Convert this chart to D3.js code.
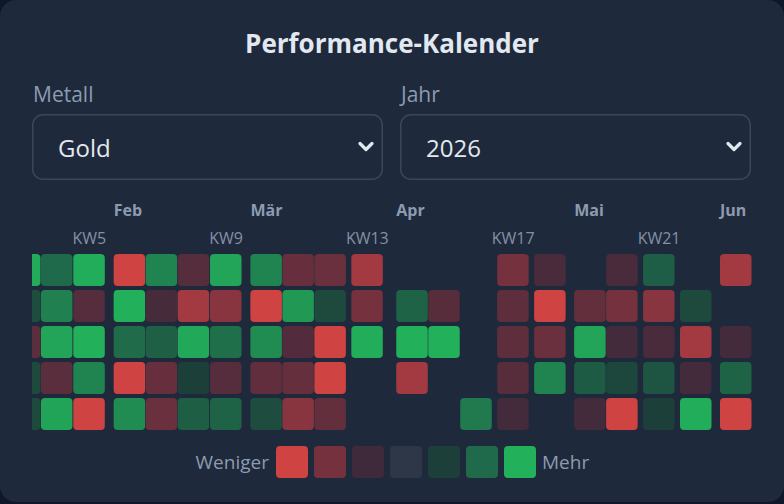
<!DOCTYPE html>
<html>
<head>
<meta charset="utf-8">
<script src="https://cdn.jsdelivr.net/npm/d3@7"></script>
<style>
    html, body { margin: 0; padding: 0; background: #0f172a; }
    body { width: 784px; height: 504px; overflow: hidden; font-family: "Open Sans", sans-serif; }
</style>
</head>
<body>
<div id="chart"></div>
<script>
// daily change in %, one array per weekday, columns = KW3 .. KW23 (2026)
const firstWeek = 3;
const changesMo = [1.95, 1.2, 1.96, -2.1, 1.5, -0.73, 1.87, 1.5, -0.99, -1.05, -1.6, null, null, null, -1.2, -0.56, null, -0.56, 0.98, null, -1.6];
const changesDi = [0.65, 1.45, -0.73, 2.1, -0.5, -1.6, -1.38, -2.1, 1.74, 0.6, -1.2, 1.07, -0.76, null, -0.86, -2.1, -0.93, -1.2, -1.38, 0.6, null];
const changesMi = [-0.8, 1.87, 2.0, 1.21, 0.99, 1.91, 1.26, 1.59, -0.68, -2.1, 1.97, 2.0, 2.1, null, -0.86, -1.05, 1.87, -0.46, -0.56, -1.6, -0.46];
const changesDo = [0.6, -0.8, 1.5, -2.0, -0.99, 0.4, -0.73, -0.89, -0.96, -2.1, null, -1.6, null, null, -0.76, 1.5, 0.92, 0.55, 0.81, -0.47, 1.07];
const changesFr = [0.6, 1.85, -2.1, 1.59, -1.05, 0.97, 1.07, 0.66, -1.38, -0.93, null, null, null, 1.38, -0.47, null, -0.47, -2.1, 0.4, 1.96, -2.1];

const weekdays = ['Mo', 'Di', 'Mi', 'Do', 'Fr'];
const monthNames = ['Jan', 'Feb', 'Mär', 'Apr', 'Mai', 'Jun'];
const legendColors = ['#d04343', '#75313e', '#3f2a3b', '#2d3748', '#1d3f3a', '#1f6a4a', '#22b05b'];
const legendStops = [-2, -1.2, -0.4, 0, 0.4, 1.2, 2];
const metalLabel = 'Metall', metalValue = 'Gold';
const yearLabel = 'Jahr', yearValue = '2026';

class Calendar {

    init() {
        this.width = 784;
        this.height = 504;
        this.svg = d3.select('#chart').append('svg')
            .attr('width', this.width)
            .attr('height', this.height);
        this.svg.append('rect')
            .attr('width', this.width).attr('height', 502)
            .attr('rx', 16)
            .attr('fill', '#1e293b');

        this.color = d3.scaleLinear()
            .domain(legendStops)
            .range(legendColors)
            .interpolate(d3.interpolateRgb)
            .clamp(true);

        this.showHeader();
        this.showGrid();
        this.showLegend();
    }

    showHeader() {
        this.svg.append('text')
            .attr('x', this.width / 2).attr('y', 53)
            .attr('text-anchor', 'middle')
            .attr('fill', '#e2e8f0')
            .style('font-size', '26px').style('font-weight', 700)
            .text('Performance-Kalender');

        let boxes = [
            {label: metalLabel, value: metalValue, x: 32, w: 351},
            {label: yearLabel, value: yearValue, x: 400, w: 351}
        ];
        boxes.forEach(b => {
            this.svg.append('text')
                .attr('x', b.x + 1).attr('y', 102)
                .attr('fill', '#8d9bb0')
                .style('font-size', '21px')
                .text(b.label);
            this.svg.append('rect')
                .attr('x', b.x + 0.75).attr('y', 114.75)
                .attr('width', b.w - 1.5).attr('height', 64.5)
                .attr('rx', 10)
                .attr('fill', '#1e293b')
                .attr('stroke', '#3b4758')
                .attr('stroke-width', 1.5);
            this.svg.append('text')
                .attr('x', b.x + 26).attr('y', 157)
                .attr('fill', '#e2e8f0')
                .style('font-size', '24px')
                .text(b.value);
            let cx = b.x + b.w - 17;
            this.svg.append('path')
                .attr('d', `M${cx - 6},143.5L${cx},149.5L${cx + 6},143.5`)
                .attr('fill', 'none')
                .attr('stroke', '#e2e8f0')
                .attr('stroke-width', 3.2)
                .attr('stroke-linecap', 'round')
                .attr('stroke-linejoin', 'round');
        });
    }

    showGrid() {
        let cell = 32, monthGap = 8, left = 32, right = 752;

        // weeks of the calendar (ISO weeks, month of the thursday)
        let mondays = d3.timeMonday.range(new Date(2025, 11, 29), new Date(2026, 5, 6));
        let weeks = mondays.map((d, i) => ({
            kw: i + 1,
            monday: d,
            month: d3.timeDay.offset(d, 3).getMonth(),
            labeled: i % 4 === 0
        }));

        this.svg.append('clipPath').attr('id', 'gridClip')
            .append('rect')
            .attr('x', left).attr('y', 190)
            .attr('width', right - left).attr('height', 250);

        let g = this.svg.append('g').attr('clip-path', 'url(#gridClip)');

        // week label widths decide the column width
        let measure = g.append('text').style('font-size', '16px');
        weeks.forEach(w => {
            w.colW = cell;
            if (w.labeled) {
                measure.text('KW' + w.kw);
                w.colW = Math.max(cell, measure.node().getComputedTextLength() - 1);
            }
        });
        measure.remove();

        let pos = 0, starts = [];
        weeks.forEach((w, i) => {
            if (i > 0 && w.month !== weeks[i - 1].month) pos += monthGap;
            starts.push(pos);
            pos += w.colW;
        });
        let shift = right - pos;

        let x = d3.scaleOrdinal()
            .domain(weeks.map(w => w.kw))
            .range(starts.map(s => s + shift));

        let y = d3.scaleBand()
            .domain(weekdays)
            .range([254, 254 + 5 * 36 - 4])
            .paddingInner(4 / 36)
            .paddingOuter(0);

        let rows = [changesMo, changesDi, changesMi, changesDo, changesFr];
        let days = [];
        weeks.forEach(w => {
            let idx = w.kw - firstWeek;
            if (idx < 0 || idx >= changesMo.length) return;
            weekdays.forEach((wd, j) => {
                let v = rows[j][idx];
                if (v === null) return;
                days.push({week: w, day: wd, value: v});
            });
        });

        g.selectAll('rect.day')
            .data(days)
            .enter().append('rect')
            .attr('class', 'day')
            .attr('x', d => x(d.week.kw) + (d.week.colW - cell) / 2)
            .attr('y', d => y(d.day))
            .attr('width', cell - 0.5)
            .attr('height', y.bandwidth())
            .attr('rx', 4)
            .attr('fill', d => this.color(d.value));

        // month labels at the first week of each month (scrolled-out ones are skipped)
        let firstOfMonth = weeks.filter((w, i) => i === 0 || w.month !== weeks[i - 1].month)
            .filter(w => x(w.kw) >= left - 2);
        g.selectAll('text.month')
            .data(firstOfMonth)
            .enter().append('text')
            .attr('class', 'month')
            .attr('x', d => x(d.kw))
            .attr('y', 216)
            .attr('fill', '#8d9bb0')
            .style('font-size', '16px').style('font-weight', 700)
            .text(d => monthNames[d.month]);

        g.selectAll('text.kw')
            .data(weeks.filter(w => w.labeled && x(w.kw) >= left - 2))
            .enter().append('text')
            .attr('class', 'kw')
            .attr('x', d => x(d.kw) + d.colW / 2)
            .attr('y', 244)
            .attr('text-anchor', 'middle')
            .attr('fill', '#8391a6')
            .style('font-size', '16px')
            .text(d => 'KW' + d.kw);
    }

    showLegend() {
        let lx = d3.scaleBand()
            .domain(d3.range(legendColors.length))
            .range([276, 276 + 7 * 38 - 6])
            .paddingInner(6 / 38)
            .paddingOuter(0);

        this.svg.selectAll('rect.legend')
            .data(legendColors)
            .enter().append('rect')
            .attr('class', 'legend')
            .attr('x', (d, i) => lx(i))
            .attr('y', 446)
            .attr('width', lx.bandwidth())
            .attr('height', 32)
            .attr('rx', 4)
            .attr('fill', d => d);

        this.svg.append('text')
            .attr('x', lx(0) - 7).attr('y', 469)
            .attr('text-anchor', 'end')
            .attr('fill', '#8d9bb0')
            .style('font-size', '19px')
            .text('Weniger');
        this.svg.append('text')
            .attr('x', lx(legendColors.length - 1) + lx.bandwidth() + 6).attr('y', 469)
            .attr('fill', '#8d9bb0')
            .style('font-size', '19px')
            .text('Mehr');
    }
}

window.calendar = new Calendar();
window.calendar.init();
</script>
</body>
</html>
